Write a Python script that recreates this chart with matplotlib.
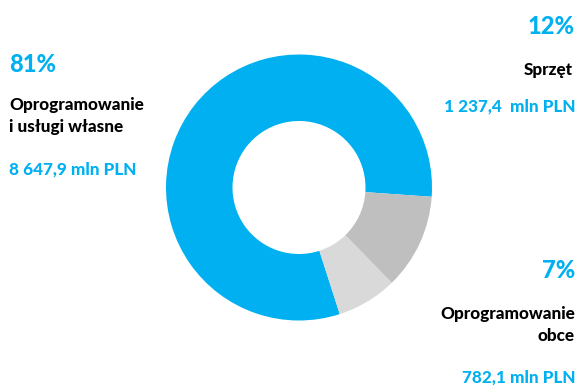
import matplotlib
matplotlib.use("Agg")
import matplotlib.pyplot as plt
from matplotlib import font_manager

# Data
categories = ["Oprogramowanie i usługi własne", "Oprogramowanie obce", "Sprzęt"]
values = [8647.9, 782.1, 1237.4]
percent_labels = ["81%", "7%", "12%"]
value_labels = ["8 647,9 mln PLN", "782,1 mln PLN", "1 237,4  mln PLN"]
colors = ["#00B0F0", "#D9D9D9", "#BFBFBF"]

W, H = 577, 385
fig = plt.figure(figsize=(W / 100, H / 100), dpi=100)
fig.patch.set_facecolor("white")

cx, cy, r = 299, 187.5, 133
ax = fig.add_axes([(cx - r) / W, (H - cy - r) / H, 2 * r / W, 2 * r / H])
ax.pie(values, colors=colors, startangle=-4, counterclock=True,
       radius=1, wedgeprops=dict(width=0.5, linewidth=0))
ax.set_xlim(-1.0, 1.0)
ax.set_ylim(-1.0, 1.0)
ax.set_aspect("equal")
ax.axis("off")

FONT = "Lato"
WEIGHT = 900
BLUE = "#00B0F0"

def t(x, y, s, size, color, ha="left"):
    fig.text(x / W, 1 - y / H, s, fontsize=size, color=color, ha=ha, va="center",
             multialignment=ha, fontfamily=FONT, fontweight=WEIGHT, linespacing=1.4)

# Left label (81%)
t(9, 64, percent_labels[0], 17, BLUE)
t(9, 116, "Oprogramowanie\ni usługi własne", 12.3, "black")
t(9, 169, value_labels[0], 12.3, BLUE)

# Top-right label (12%)
t(575, 27, percent_labels[2], 17, BLUE, ha="right")
t(573, 70, "Sprzęt", 12.3, "black", ha="right")
t(575, 106, value_labels[2], 12.3, BLUE, ha="right")

# Bottom-right label (7%)
t(575, 271, percent_labels[1], 17, BLUE, ha="right")
t(575, 325, "Oprogramowanie\nobce", 12.3, "black", ha="right")
t(575, 377, value_labels[1], 12.3, BLUE, ha="right")

fig.savefig("out.png", dpi=100, facecolor="white")
